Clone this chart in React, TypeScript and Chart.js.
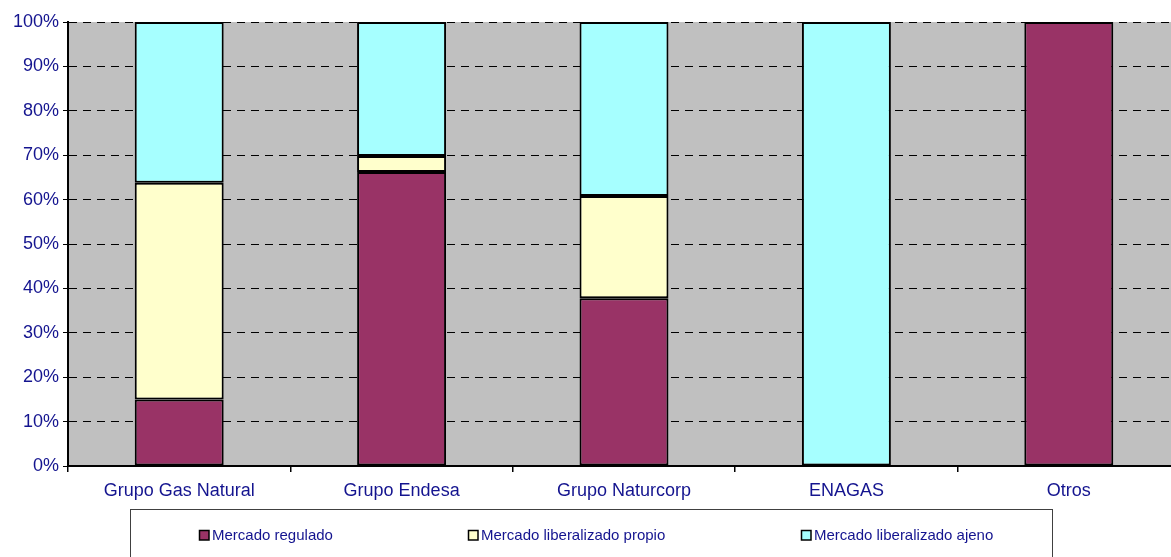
import React, { useEffect, useRef } from "react";
import { Chart, registerables } from "chart.js";

Chart.register(...registerables);

const categories = ["Grupo Gas Natural", "Grupo Endesa", "Grupo Naturcorp", "ENAGAS", "Otros"];
const regulado = [15, 66.2, 37.8, 0, 100];
const libPropio = [48.8, 3.6, 23, 0, 0];
const libAjeno = [36.2, 30.2, 39.2, 100, 0];
const seriesNames = ["Mercado regulado", "Mercado liberalizado propio", "Mercado liberalizado ajeno"];
const seriesColors = ["#993366", "#FFFFCC", "#A6FFFF"];
const yTicks = [0, 10, 20, 30, 40, 50, 60, 70, 80, 90, 100];

const FONT = "Arial, 'Liberation Sans', sans-serif";
const TEXT = "#14148F";

const bgPlugin = {
  id: "plotBg",
  beforeDraw(chart: any) {
    const { ctx, chartArea } = chart;
    ctx.save();
    ctx.fillStyle = "#C0C0C0";
    ctx.fillRect(chartArea.left, chartArea.top, chartArea.right - chartArea.left, chartArea.bottom - chartArea.top);
    ctx.restore();
  },
};

const legendPlugin = {
  id: "boxLegend",
  afterDraw(chart: any) {
    const { ctx } = chart;
    ctx.save();
    ctx.strokeStyle = "#404040";
    ctx.lineWidth = 1;
    ctx.strokeRect(130.5, 509.5, 922, 60);
    const xs = [199, 468, 801];
    ctx.font = "15px " + FONT;
    ctx.textBaseline = "middle";
    for (let i = 0; i < seriesNames.length; i++) {
      ctx.fillStyle = seriesColors[i];
      ctx.fillRect(xs[i], 530, 10, 10);
      ctx.strokeStyle = "#000";
      ctx.lineWidth = 1.5;
      ctx.strokeRect(xs[i] + 0.5, 530.5, 9.5, 9.5);
      ctx.fillStyle = TEXT;
      ctx.fillText(seriesNames[i], xs[i] + 13, 536);
    }
    ctx.restore();
  },
};

export default function App() {
  const ref = useRef<HTMLCanvasElement>(null);
  useEffect(() => {
    if (!ref.current) return;
    const data = [regulado, libPropio, libAjeno];
    const chart = new Chart(ref.current, {
      type: "bar",
      data: {
        labels: categories,
        datasets: seriesNames.map((n, i) => ({
          label: n,
          data: data[i].map((v) => (v === 0 ? null : v)),
          backgroundColor: seriesColors[i],
          borderColor: "#000000",
          borderWidth: 2,
          borderSkipped: false,
          barPercentage: 0.4,
          categoryPercentage: 1,
        })),
      },
      options: {
        animation: false,
        responsive: false,
        maintainAspectRatio: false,
        layout: { padding: { top: 22, right: 0, left: 0, bottom: 0 } },
        plugins: { legend: { display: false }, tooltip: { enabled: false } },
        scales: {
          x: {
            stacked: true,
            offset: true,
            grid: { offset: true, drawOnChartArea: false, color: "#000", tickLength: 6, lineWidth: 1.5 },
            border: { color: "#000", width: 2 },
            ticks: { color: TEXT, font: { family: FONT, size: 18 }, padding: 8, maxRotation: 0 },
            afterFit(scale: any) {
              scale.height = 91;
            },
          },
          y: {
            stacked: true,
            min: 0,
            max: 100,
            afterBuildTicks(scale: any) {
              scale.ticks = yTicks.map((v) => ({ value: v }));
            },
            grid: { color: "#000", tickLength: 5, lineWidth: 1 },
            border: { color: "#000", width: 2, dash: [8, 6] },
            ticks: {
              color: TEXT,
              font: { family: FONT, size: 18 },
              padding: 4,
              callback: (v: any) => v + "%",
            },
            afterFit(scale: any) {
              scale.width = 68;
            },
          },
        },
      },
      plugins: [bgPlugin, legendPlugin],
    });
    return () => chart.destroy();
  }, []);
  return (
    <div style={{ position: "absolute", left: 0, top: 0, width: 1171, height: 557, overflow: "hidden", background: "#fff" }}>
      <canvas ref={ref} width={1180} height={557} style={{ width: 1180, height: 557, display: "block" }} />
    </div>
  );
}
